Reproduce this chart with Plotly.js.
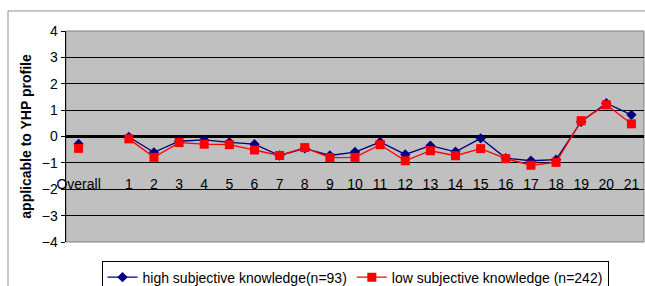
<!DOCTYPE html>
<html>
<head>
<meta charset="utf-8">
<script src="https://cdn.plot.ly/plotly-3.0.1.min.js"></script>
<style>html,body{margin:0;padding:0;background:#fff;}#chart{width:645px;height:286px;}</style>
</head>
<body>
<div id="chart"></div>
<script>
var categories = ['Overall', ' ', '1', '2', '3', '4', '5', '6', '7', '8', '9', '10', '11', '12', '13', '14', '15', '16', '17', '18', '19', '20', '21'];
var highValues = [-0.28, null, -0.02, -0.60, -0.18, -0.13, -0.22, -0.29, -0.72, -0.45, -0.72, -0.59, -0.21, -0.68, -0.35, -0.58, -0.07, -0.82, -0.92, -0.88, 0.56, 1.26, 0.82];
var lowValues = [-0.45, null, -0.09, -0.79, -0.23, -0.29, -0.31, -0.51, -0.72, -0.42, -0.80, -0.79, -0.31, -0.92, -0.54, -0.73, -0.46, -0.84, -1.09, -0.98, 0.60, 1.20, 0.48];
var highName = 'high subjective knowledge(n=93)';
var lowName = 'low subjective knowledge (n=242)';
var yTitle = 'applicable to YHP profile';

var traces = [
  {x: categories, y: highValues, name: highName, type: 'scatter', mode: 'lines+markers',
   connectgaps: false, cliponaxis: false,
   line: {color: '#000080', width: 1.3},
   marker: {symbol: 'diamond', size: 8, color: '#000080'}},
  {x: categories, y: lowValues, name: lowName, type: 'scatter', mode: 'lines+markers',
   connectgaps: false, cliponaxis: false,
   line: {color: '#FF0000', width: 1.3},
   marker: {symbol: 'square', size: 9, color: '#FF0000'}}
];

var layout = {
  width: 645, height: 286,
  margin: {l: 66, r: 1, t: 31, b: 44, autoexpand: false},
  paper_bgcolor: '#ffffff',
  plot_bgcolor: '#C0C0C0',
  font: {family: 'Arial, Liberation Sans, sans-serif', size: 14, color: '#000'},
  showlegend: true,
  legend: {orientation: 'h', x: 0.5, xanchor: 'center', y: -0.088, yanchor: 'top',
           bordercolor: '#000', borderwidth: 1, bgcolor: '#fff',
           font: {size: 14}, itemwidth: 30, tracegroupgap: 0},
  xaxis: {type: 'category', categoryorder: 'array', categoryarray: categories,
          range: [-0.5, 22.5], showgrid: false, zeroline: false, showline: false,
          ticks: '', anchor: 'free', position: 0.322, fixedrange: true, tickangle: 0,
          tickfont: {size: 14, color: '#000'}},
  yaxis: {range: [-4, 4], dtick: 1, tick0: 0, showgrid: true, gridcolor: '#000', gridwidth: 1,
          zeroline: true, zerolinecolor: '#000', zerolinewidth: 3,
          showline: true, linecolor: '#000', linewidth: 1.5, mirror: false,
          ticks: 'outside', ticklen: 4, tickcolor: '#000', tickfont: {size: 14, color: '#000'},
          title: {text: yTitle, font: {size: 14, color: '#000', family: 'Arial, Liberation Sans, sans-serif', weight: 'bold'}, standoff: 7},
          automargin: false, fixedrange: true},
  shapes: [
    {type: 'rect', xref: 'paper', yref: 'paper', x0: 0, x1: 1, y0: 0, y1: 1,
     line: {color: '#808080', width: 1}, layer: 'below'},
    {type: 'line', xref: 'paper', yref: 'paper', x0: -0.1003, x1: 1.01, y0: 1.0948, y1: 1.0948,
     line: {color: '#909090', width: 1}},
    {type: 'line', xref: 'paper', yref: 'paper', x0: -0.1003, x1: -0.1003, y0: 1.0948, y1: -0.22,
     line: {color: '#909090', width: 1}}
  ]
};

Plotly.newPlot('chart', traces, layout, {displayModeBar: false, staticPlot: true});
</script>
</body>
</html>
